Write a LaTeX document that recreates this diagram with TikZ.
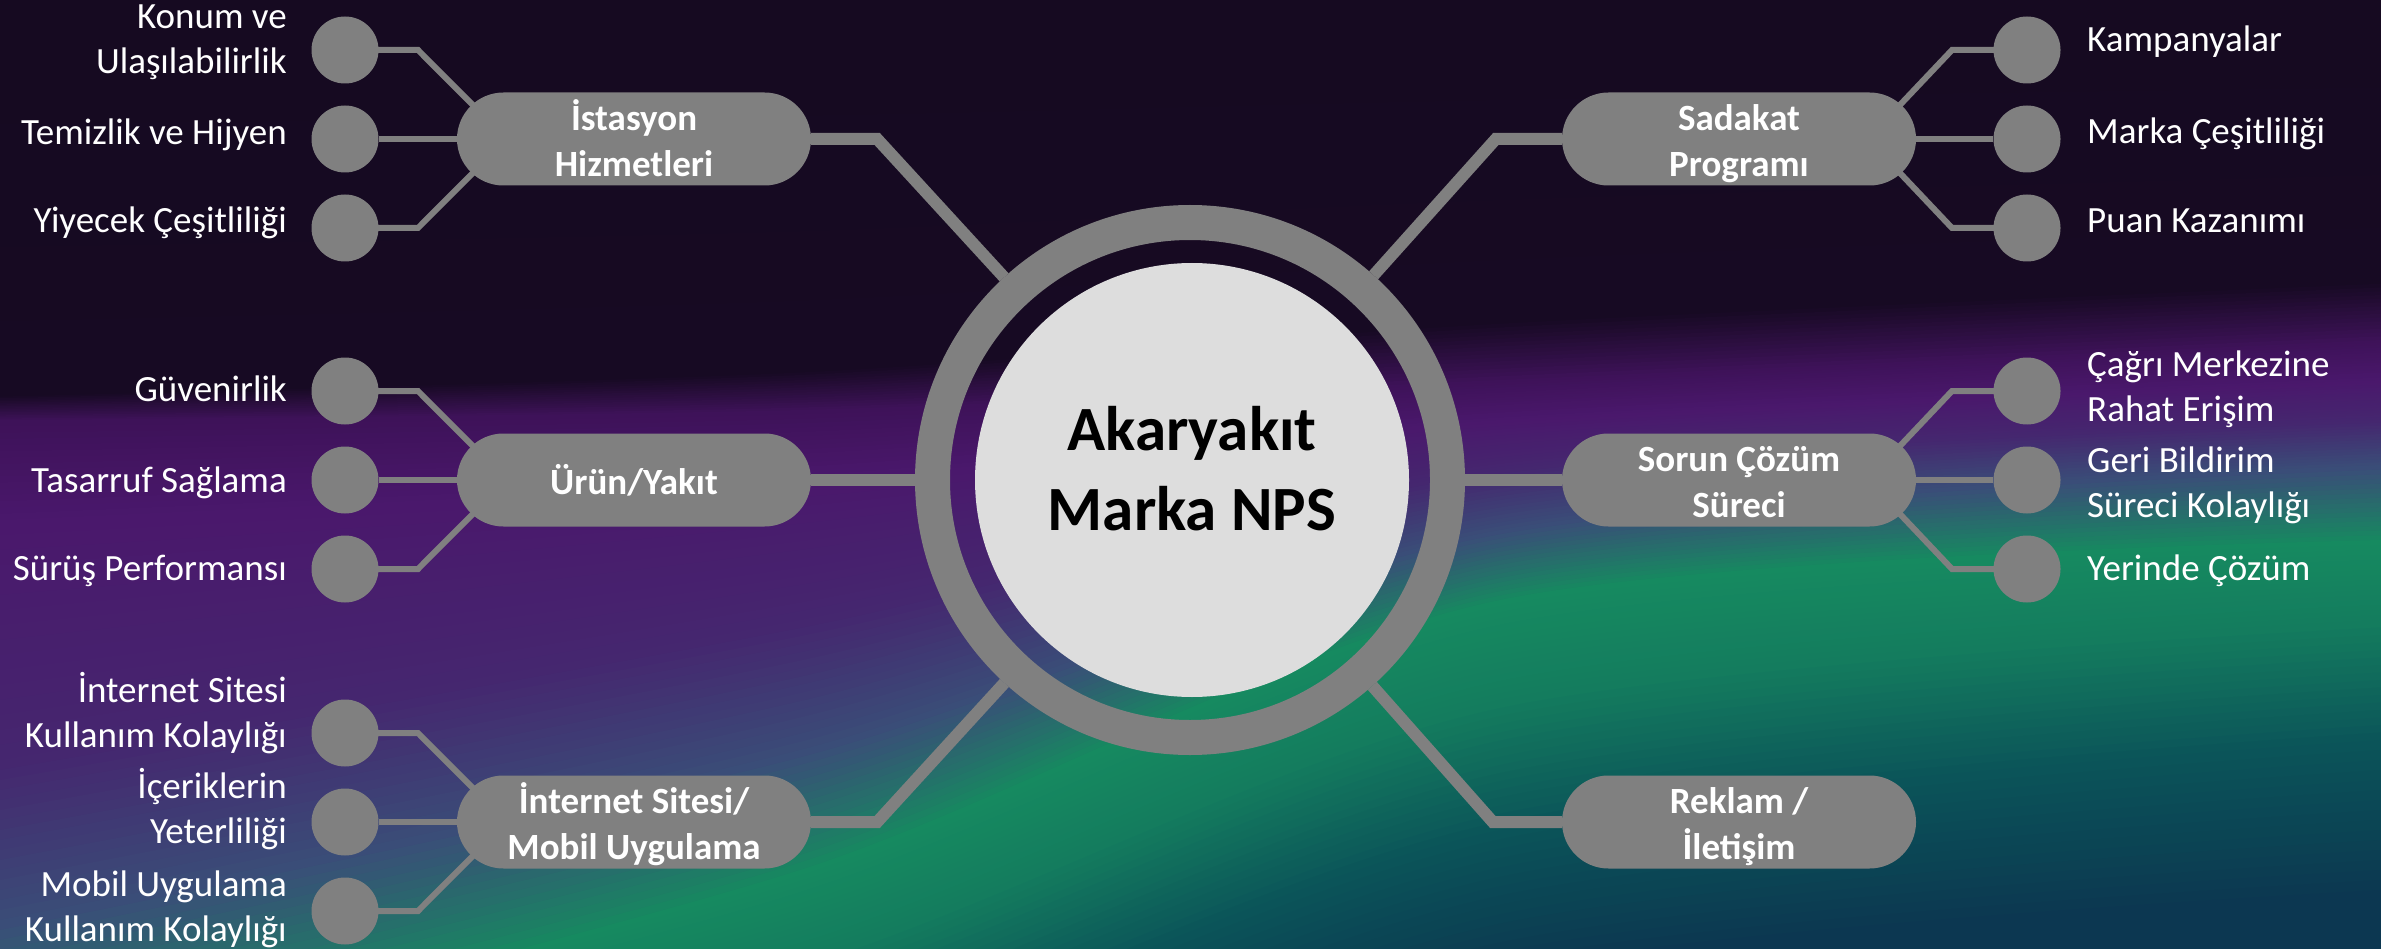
\documentclass[tikz,border=0pt]{standalone}
\usepackage{fontspec}
\setmainfont{Carlito}
\usetikzlibrary{calc}
\pgfdeclarelayer{bg}
\pgfdeclarelayer{lines}
\pgfsetlayers{bg,lines,main}

\definecolor{nodegrey}{HTML}{808080}
\definecolor{hubfill}{HTML}{DDDDDD}
\definecolor{c0}{HTML}{160A21}
\definecolor{c1}{HTML}{170A23}
\definecolor{c2}{HTML}{3E1259}
\definecolor{c3}{HTML}{4A186C}
\definecolor{c4}{HTML}{45276F}
\definecolor{c5}{HTML}{3A4D78}
\definecolor{c6}{HTML}{168A60}
\definecolor{c7}{HTML}{147C5E}
\definecolor{c8}{HTML}{0B5459}
\definecolor{c9}{HTML}{0C3550}

\newcommand{\mystrutA}{\rule[-10pt]{0pt}{48pt}}
\newcommand{\hubtop}{\rule{0pt}{55pt}}
\newcommand{\hubbot}{\rule[-23pt]{0pt}{23pt}}
\newcommand{\pilltext}[1]{\raisebox{-5pt}[\height][\depth]{\begin{tabular}{@{}c@{}}#1\end{tabular}}}

\tikzset{
  pill/.style={rectangle, rounded corners=46.5pt, fill=nodegrey, minimum width=354pt,
    minimum height=93pt, inner sep=0pt, text=white,
    font=\fontsize{37}{46}\selectfont\bfseries},
  leaf/.style={circle, fill=nodegrey, minimum size=67pt, inner sep=0pt},
  lbl/.style={text=white, font=\fontsize{37}{45}\selectfont, inner sep=0pt,
    execute at begin node=\mystrutA, execute at end node=\mystrutA},
  lbll/.style={lbl, anchor=east, align=right},
  lblr/.style={lbl, anchor=west, align=left},
  thinline/.style={draw=nodegrey, line width=6pt},
  thickline/.style={draw=nodegrey, line width=12pt},
}

\begin{document}
\begin{tikzpicture}[x=1pt, y=-1pt]
\useasboundingbox (0,0) rectangle (2381,949);

% background
\begin{pgfonlayer}{bg}
\begin{scope}
\clip (0,0) rectangle (2381,949);
\fill[c0] (0,0) rectangle (2381,949);
\foreach \ca/\cb/\la/\lb/\aa/\ab/\ba/\bb/\ra/\rb in {
  c0/c1/0/395/0/370/0/320/0/280,
  c1/c2/395/420/370/410/320/380/280/340,
  c2/c3/420/520/410/480/380/420/340/380,
  c3/c4/520/760/480/620/420/470/380/420,
  c4/c5/760/920/620/750/470/530/420/465,
  c5/c6/920/1080/750/870/530/600/465/540,
  c6/c7/1080/1160/870/960/600/700/540/620,
  c7/c8/1160/1280/960/1080/700/830/620/740,
  c8/c9/1280/1430/1080/1230/830/980/740/900}{
  \foreach \j in {0,...,15}{
    \pgfmathsetmacro\f{\j/16}
    \pgfmathsetmacro\p{100*\f}
    \pgfmathsetmacro\yl{\la+(\lb-\la)*\f}
    \pgfmathsetmacro\ya{\aa+(\ab-\aa)*\f}
    \pgfmathsetmacro\yb{\ba+(\bb-\ba)*\f}
    \pgfmathsetmacro\yr{\ra+(\rb-\ra)*\f}
    \colorlet{tmpc}{\cb!\p!\ca}
    \fill[tmpc] plot[smooth] coordinates {(0,\yl) (800,\ya) (1500,\yb) (2381,\yr)}
      -- (2381,1600) -- (0,1600) -- cycle;
  }
}
\end{scope}
\end{pgfonlayer}

% centre
\node[circle, draw=nodegrey, line width=35pt, outer sep=17.5pt, minimum size=515pt, inner sep=0pt] (ring) at (1190,480) {};
\node[circle, fill=hubfill, minimum size=434pt, inner sep=0pt, align=center,
  font=\fontsize{63}{80}\selectfont\bfseries,
  execute at begin node=\hubtop, execute at end node=\hubbot] (hub) at (1192,480) {Akaryakıt\\Marka NPS};

% pills
\node[pill] (p1) at (634,139) {\pilltext{İstasyon\\Hizmetleri}};
\node[pill] (p2) at (634,480) {\pilltext{Ürün/Yakıt}};
\node[pill] (p3) at (634,822) {\pilltext{İnternet Sitesi/\\Mobil Uygulama}};
\node[pill] (p4) at (1739,139) {\pilltext{Sadakat\\Programı}};
\node[pill] (p5) at (1739,480) {\pilltext{Sorun Çözüm\\Süreci}};
\node[pill] (p6) at (1739,822) {\pilltext{Reklam /\\İletişim}};

% leaves left
\node[leaf] (l1a) at (345,50) {};
\node[leaf] (l1b) at (345,139) {};
\node[leaf] (l1c) at (345,228) {};
\node[leaf] (l2a) at (345,391) {};
\node[leaf] (l2b) at (345,480) {};
\node[leaf] (l2c) at (345,569) {};
\node[leaf] (l3a) at (345,733) {};
\node[leaf] (l3b) at (345,822) {};
\node[leaf] (l3c) at (345,911) {};
% leaves right
\node[leaf] (r1a) at (2027,50) {};
\node[leaf] (r1b) at (2027,139) {};
\node[leaf] (r1c) at (2027,228) {};
\node[leaf] (r2a) at (2027,391) {};
\node[leaf] (r2b) at (2027,480) {};
\node[leaf] (r2c) at (2027,569) {};

% labels left
\node[lbll] (t1a) at (287,44) {Konum ve\\Ulaşılabilirlik};
\node[lbll] (t1b) at (287,131) {Temizlik ve Hijyen};
\node[lbll] (t1c) at (287,219) {Yiyecek Çeşitliliği};
\node[lbll] (t2a) at (287,387) {Güvenirlik};
\node[lbll] (t2b) at (287,478) {Tasarruf Sağlama};
\node[lbll] (t2c) at (287,566) {Sürüş Performansı};
\node[lbll] (t3a) at (287,715) {İnternet Sitesi\\Kullanım Kolaylığı};
\node[lbll] (t3b) at (287,811) {İçeriklerin\\Yeterliliği};
\node[lbll] (t3c) at (287,911) {Mobil Uygulama\\Kullanım Kolaylığı};
% labels right
\node[lblr] (s1a) at (2087,38) {Kampanyalar};
\node[lblr] (s1b) at (2087,130) {Marka Çeşitliliği};
\node[lblr] (s1c) at (2087,219) {Puan Kazanımı};
\node[lblr] (s2a) at (2087,391) {Çağrı Merkezine\\Rahat Erişim};
\node[lblr] (s2b) at (2087,487) {Geri Bildirim\\Süreci Kolaylığı};
\node[lblr] (s2c) at (2087,566) {Yerinde Çözüm};

% connectors
\begin{pgfonlayer}{lines}
\draw[thickline] (p1.east) -- ++(66,0) -- (ring);
\draw[thickline] (p2.east) -- (ring);
\draw[thickline] (p3.east) -- ++(66,0) -- (ring);
\draw[thickline] (p4.west) -- ++(-66,0) -- (ring);
\draw[thickline] (p5.west) -- (ring);
\draw[thickline] (p6.west) -- ++(-69,0) -- (ring);

\draw[thinline] (l1a.center) -- ++(73,0) -- ([shift={(21,-29)}]p1.west);
\draw[thinline] (l1b) -- (p1);
\draw[thinline] (l1c.center) -- ++(73,0) -- ([shift={(21,29)}]p1.west);
\draw[thinline] (l2a.center) -- ++(73,0) -- ([shift={(21,-29)}]p2.west);
\draw[thinline] (l2b) -- (p2);
\draw[thinline] (l2c.center) -- ++(73,0) -- ([shift={(21,29)}]p2.west);
\draw[thinline] (l3a.center) -- ++(73,0) -- ([shift={(21,-29)}]p3.west);
\draw[thinline] (l3b) -- (p3);
\draw[thinline] (l3c.center) -- ++(73,0) -- ([shift={(21,29)}]p3.west);

\draw[thinline] (r1a.center) -- ++(-75,0) -- ([shift={(-21,-29)}]p4.east);
\draw[thinline] (r1b) -- (p4);
\draw[thinline] (r1c.center) -- ++(-75,0) -- ([shift={(-21,29)}]p4.east);
\draw[thinline] (r2a.center) -- ++(-75,0) -- ([shift={(-21,-29)}]p5.east);
\draw[thinline] (r2b) -- (p5);
\draw[thinline] (r2c.center) -- ++(-75,0) -- ([shift={(-21,29)}]p5.east);
\end{pgfonlayer}
\end{tikzpicture}
\end{document}
